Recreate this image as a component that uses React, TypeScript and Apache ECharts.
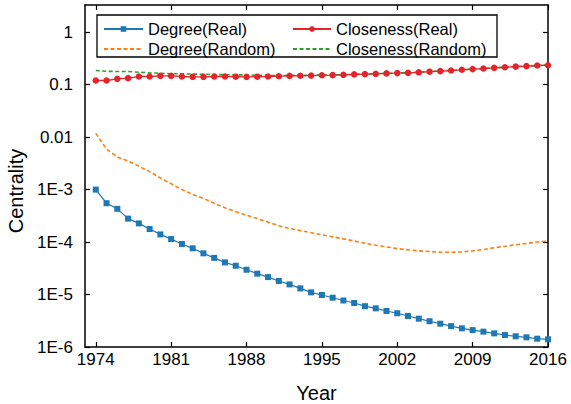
import React, { useEffect, useRef } from "react";
import * as echarts from "echarts";

const years = [
  1974, 1975, 1976, 1977, 1978, 1979, 1980, 1981, 1982, 1983, 1984, 1985, 1986, 1987, 1988,
  1989, 1990, 1991, 1992, 1993, 1994, 1995, 1996, 1997, 1998, 1999, 2000, 2001, 2002, 2003,
  2004, 2005, 2006, 2007, 2008, 2009, 2010, 2011, 2012, 2013, 2014, 2015, 2016,
];

const degreeReal = [
  1.0e-3, 5.5e-4, 4.3e-4, 2.8e-4, 2.27e-4, 1.77e-4, 1.4e-4, 1.14e-4, 9.2e-5, 7.6e-5, 6.1e-5,
  5.0e-5, 4.1e-5, 3.54e-5, 2.97e-5, 2.5e-5, 2.15e-5, 1.81e-5, 1.56e-5, 1.31e-5, 1.1e-5,
  9.8e-6, 8.7e-6, 7.7e-6, 6.9e-6, 6.0e-6, 5.45e-6, 4.85e-6, 4.4e-6, 3.9e-6, 3.47e-6, 3.1e-6,
  2.78e-6, 2.5e-6, 2.27e-6, 2.1e-6, 1.96e-6, 1.82e-6, 1.69e-6, 1.6e-6, 1.53e-6, 1.44e-6, 1.4e-6,
];

const closenessReal = [
  0.12, 0.12, 0.129, 0.133, 0.143, 0.143, 0.147, 0.147, 0.143, 0.141, 0.141, 0.143, 0.143,
  0.142, 0.141, 0.142, 0.143, 0.145, 0.147, 0.148, 0.149, 0.151, 0.152, 0.154, 0.157, 0.159,
  0.161, 0.164, 0.166, 0.168, 0.172, 0.177, 0.181, 0.186, 0.192, 0.198, 0.203, 0.209, 0.215,
  0.221, 0.226, 0.232, 0.235,
];

const degreeRandom = [
  0.0118, 0.0059, 0.0042, 0.0035, 0.0028, 0.0022, 0.00166, 0.00129, 0.001, 8.1e-4, 6.8e-4,
  5.5e-4, 4.5e-4, 3.8e-4, 3.27e-4, 2.8e-4, 2.4e-4, 2.04e-4, 1.82e-4, 1.66e-4, 1.51e-4, 1.38e-4,
  1.26e-4, 1.15e-4, 1.05e-4, 9.5e-5, 8.7e-5, 8.1e-5, 7.5e-5, 7.1e-5, 6.8e-5, 6.6e-5, 6.4e-5,
  6.4e-5, 6.5e-5, 6.8e-5, 7.2e-5, 7.8e-5, 8.3e-5, 8.9e-5, 9.4e-5, 1.0e-4, 1.05e-4,
];

const closenessRandom = [
  0.186, 0.18, 0.178, 0.178, 0.173, 0.168, 0.165, 0.162, 0.161, 0.159, 0.158, 0.156, 0.155,
  0.154, 0.154, 0.151, 0.15, 0.149, 0.15, 0.151, 0.151, 0.153, 0.153, 0.155, 0.157, 0.16,
  0.162, 0.164, 0.167, 0.169, 0.173, 0.177, 0.182, 0.187, 0.192, 0.198, 0.203, 0.209, 0.215,
  0.221, 0.226, 0.232, 0.236,
];

const xTicks = [1974, 1981, 1988, 1995, 2002, 2009, 2016];
const yTicks = [1e-6, 1e-5, 1e-4, 1e-3, 0.01, 0.1, 1];
const yTickLabels = ["1E-6", "1E-5", "1E-4", "1E-3", "0.01", "0.1", "1"];

const FONT = "'Liberation Sans', Arial, sans-serif";

const pairs = (vals: number[]) => years.map((y, i) => [y, vals[i]]);

export default function App() {
  const ref = useRef<HTMLDivElement>(null);
  useEffect(() => {
    if (!ref.current) return;
    const chart = echarts.init(ref.current, null, { renderer: "svg" });
    const yLabel = (v: number) => {
      for (let i = 0; i < yTicks.length; i++) {
        if (Math.abs(Math.log10(v) - Math.log10(yTicks[i])) < 1e-6) return yTickLabels[i];
      }
      return "";
    };
    const axisLine = { show: true, lineStyle: { color: "#000", width: 1.5 } };
    const tick = { show: true, inside: true, length: 5, lineStyle: { color: "#000", width: 1.2 } };
    const legendText = { fontFamily: FONT, fontSize: 16.5, color: "#000", lineHeight: 18 };
    const hiddenSymbol = { itemStyle: { opacity: 0 } };
    chart.setOption({
      animation: false,
      grid: {
        left: 85,
        right: 23,
        top: 5,
        bottom: 57,
        containLabel: false,
        outerBoundsMode: "none",
      },
      xAxis: [
        {
          type: "value",
          min: 1973,
          max: 2016,
          name: "Year",
          nameLocation: "middle",
          nameGap: 36,
          nameTextStyle: { fontFamily: FONT, fontSize: 20, color: "#000" },
          axisLine,
          axisTick: { ...tick, customValues: xTicks },
          axisLabel: {
            customValues: xTicks,
            fontFamily: FONT,
            fontSize: 17,
            color: "#000",
            margin: 4,
            formatter: (v: number) => String(v),
          },
          splitLine: { show: false },
        },
        {
          type: "value",
          position: "top",
          min: 1973,
          max: 2016,
          axisLine,
          axisTick: { ...tick, customValues: xTicks },
          axisLabel: { show: false },
          splitLine: { show: false },
        },
      ],
      yAxis: [
        {
          type: "log",
          logBase: 10,
          min: 1e-6,
          max: 3.3,
          name: "Centrality",
          nameLocation: "middle",
          nameGap: 50,
          nameTextStyle: { fontFamily: FONT, fontSize: 20, color: "#000", padding: [0, 30, 0, 0] },
          axisLine,
          axisTick: { ...tick, customValues: yTicks },
          axisLabel: {
            customValues: yTicks,
            fontFamily: FONT,
            fontSize: 17,
            color: "#000",
            margin: 12,
            formatter: yLabel,
          },
          splitLine: { show: false },
          minorTick: { show: false },
        },
        {
          type: "log",
          logBase: 10,
          position: "right",
          min: 1e-6,
          max: 3.3,
          axisLine,
          axisTick: { ...tick, customValues: yTicks },
          axisLabel: { show: false },
          splitLine: { show: false },
        },
      ],
      legend: [
        {
          orient: "vertical",
          left: 103,
          top: 20,
          padding: 0,
          itemWidth: 39,
          itemHeight: 7,
          itemGap: 2,
          data: [{ name: "Degree(Real)" }, { name: "Degree(Random)", ...hiddenSymbol }],
          textStyle: legendText,
        },
        {
          orient: "vertical",
          left: 292,
          top: 20,
          padding: 0,
          itemWidth: 38,
          itemHeight: 7,
          itemGap: 2,
          data: [{ name: "Closeness(Real)" }, { name: "Closeness(Random)", ...hiddenSymbol }],
          textStyle: legendText,
        },
      ],
      graphic: [
        {
          type: "rect",
          shape: { x: 97, y: 15, width: 400, height: 42 },
          style: { fill: "none", stroke: "#000", lineWidth: 1.3 },
          z: 100,
        },
      ],
      series: [
        {
          name: "Degree(Random)",
          type: "line",
          data: pairs(degreeRandom),
          showSymbol: false,
          symbol: "none",
          lineStyle: { color: "#ff7f0e", width: 1.6, type: [4, 2.5] },
          itemStyle: { color: "#ff7f0e" },
        },
        {
          name: "Closeness(Random)",
          type: "line",
          data: pairs(closenessRandom),
          showSymbol: false,
          symbol: "none",
          lineStyle: { color: "#2ca02c", width: 1.6, type: [4, 2.5] },
          itemStyle: { color: "#2ca02c" },
        },
        {
          name: "Degree(Real)",
          type: "line",
          data: pairs(degreeReal),
          symbol: "rect",
          symbolSize: 6,
          lineStyle: { color: "#1f77b4", width: 1.2 },
          itemStyle: { color: "#1f77b4" },
        },
        {
          name: "Closeness(Real)",
          type: "line",
          data: pairs(closenessReal),
          symbol: "circle",
          symbolSize: 6.5,
          lineStyle: { color: "#e3242b", width: 1.3 },
          itemStyle: { color: "#e3242b" },
        },
      ],
    });
    return () => chart.dispose();
  }, []);
  return (
    <div
      ref={ref}
      style={{ position: "absolute", left: 0, top: 0, width: 571, height: 404 }}
    />
  );
}
